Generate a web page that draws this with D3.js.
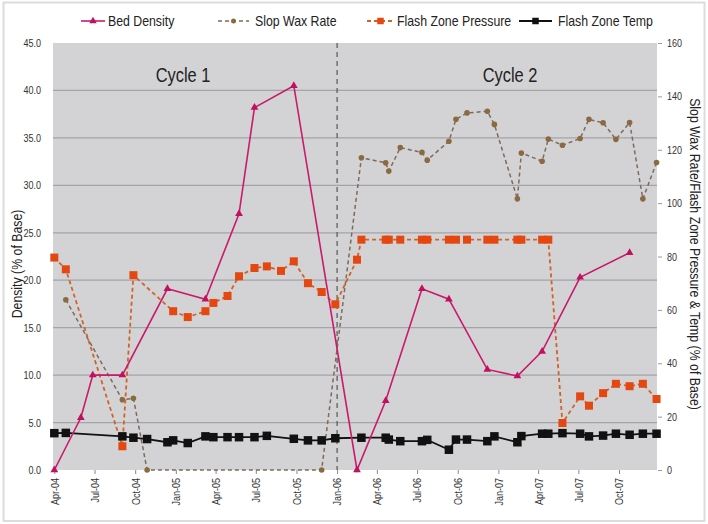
<!DOCTYPE html>
<html>
<head>
<meta charset="utf-8">
<script src="https://cdn.jsdelivr.net/npm/d3@7"></script>
<style>
  body { margin: 0; background: #fff; }
  svg text { font-family: 'Liberation Sans', Arial, sans-serif; }
</style>
</head>
<body>
<div class="chart"></div>
<script>
var w = 708,
  h = 524,
  margin = { top: 43, right: 51, bottom: 54, left: 53 },
  width = w - margin.left - margin.right,
  height = h - margin.top - margin.bottom;

// sample dates (shared by all series, null = no reading)
var dates = [
  '2004-04-01', '2004-04-27', '2004-05-31', '2004-06-27', '2004-09-02', '2004-09-27', '2004-10-28', '2004-12-13', '2004-12-26', '2005-01-28',
  '2005-03-09', '2005-03-27', '2005-04-28', '2005-05-24', '2005-06-28', '2005-07-26', '2005-08-27', '2005-09-25', '2005-10-27', '2005-11-27',
  '2005-12-28', '2006-02-15', '2006-02-25', '2006-04-21', '2006-04-28', '2006-05-24', '2006-07-12', '2006-07-24', '2006-09-11', '2006-09-27',
  '2006-10-22', '2006-12-07', '2006-12-23', '2007-02-13', '2007-02-22', '2007-04-10', '2007-04-24', '2007-05-26', '2007-07-05', '2007-07-25',
  '2007-08-26', '2007-09-24', '2007-10-25', '2007-11-24', '2007-12-25'
];

// left axis
var bedDensity = [
  0.0, null, 5.5, 10.0, 10.0, null, null, 19.1, null, null,
  18.0, null, null, 27.0, 38.2, null, null, 40.5, null, null,
  null, 0.0, null, 7.3, null, null, 19.1, null, 18.0, null,
  null, 10.6, null, 9.9, null, 12.5, null, null, 20.3, null,
  null, null, 22.9, null, null
];

// right axis
var slopWax = [
  null, 63.8, null, null, 26.3, 26.9, 0, null, null, null,
  null, null, null, null, null, null, null, null, null, 0,
  null, null, 117, 115.1, 112, 120.8, 119, 116.1, 123.2, 131.4,
  133.8, 134.4, 129.5, 101.6, 118.8, 115.7, 124, 121.7, 124.2, 131.4,
  130.1, 123.9, 130.2, 101.6, 115.2
];

var flashPressure = [
  79.6, 75.2, null, null, 8.9, 73.0, null, null, 59.5, 57.3,
  59.5, 62.6, 65.2, 72.6, 75.7, 76.3, 74.6, 78.2, 70.0, 66.7,
  62.1, 78.8, 86.3, 86.3, 86.3, 86.3, 86.3, 86.3, 86.3, 86.3,
  86.3, 86.3, 86.3, 86.3, 86.3, 86.3, 86.3, 17.6, 27.6, 24.1,
  28.8, 32.3, 31.4, 32.3, 26.6
];

var flashTemp = [
  13.8, 13.9, null, null, 12.6, 12.1, 11.6, 10.4, 11.1, 10.1,
  12.6, 12.3, 12.3, 12.3, 12.3, 12.8, null, 11.7, 11.1, 11.1,
  11.9, null, 12.1, 12.1, 11.4, 10.8, 10.8, 11.3, 7.6, 11.4,
  11.4, 10.8, 12.6, 10.4, 12.7, 13.6, 13.6, 13.8, 13.6, 12.6,
  12.9, 13.6, 13.2, 13.6, 13.6
];

var leftTicks = [0, 5, 10, 15, 20, 25, 30, 35, 40, 45],
  rightTicks = [0, 20, 40, 60, 80, 100, 120, 140, 160],
  cycleSplit = '2006-01-01',
  cycles = [{ label: 'Cycle 1', x: 130 }, { label: 'Cycle 2', x: 457 }];

var parseDate = d3.timeParse('%Y-%m-%d');

// helper to pair a value list with the dates, dropping gaps
var toPoints = function (values) {
  return values.map(function (v, i) {
    return { date: parseDate(dates[i]), value: v };
  }).filter(function (d) {
    return d.value !== null;
  });
}

var x = d3.scaleTime()
  .domain([parseDate('2004-03-29'), parseDate('2007-12-26')])
  .range([0, width]);

var yLeft = d3.scaleLinear().domain([0, 45]).range([height, 0]);
var yRight = d3.scaleLinear().domain([0, 160]).range([height, 0]);

var svg = d3.select('.chart')
  .append('svg')
  .attr('width', w)
  .attr('height', h);

// light frame round the whole picture
svg.append('rect')
  .attr('x', 3.5).attr('y', 2.5)
  .attr('width', 701).attr('height', 518.5)
  .attr('fill', 'none')
  .attr('stroke', '#dcdcdc')
  .attr('stroke-width', 2);

var g = svg.append('g')
  .attr('transform', 'translate(' + margin.left + ',' + margin.top + ')');

// plot background + grid
g.append('rect')
  .attr('width', width)
  .attr('height', height)
  .attr('fill', '#d3d3d6');

g.selectAll('.grid')
  .data(leftTicks.filter(function (t) { return t > 0 && t < 45; }))
  .enter()
  .append('line')
  .attr('class', 'grid')
  .attr('x1', 0).attr('x2', width)
  .attr('y1', function (d) { return yLeft(d); })
  .attr('y2', function (d) { return yLeft(d); })
  .attr('stroke', '#a4a4a8')
  .attr('stroke-width', 1.2);

// axes
var leftAxis = g.append('g')
  .call(d3.axisLeft(yLeft).tickValues(leftTicks).tickFormat(d3.format('.1f')).tickSize(0).tickPadding(12));
leftAxis.select('.domain').remove();
leftAxis.selectAll('text').attr('font-size', 11).attr('fill', '#333');

var rightAxis = g.append('g')
  .attr('transform', 'translate(' + (width + 1) + ',0)')
  .call(d3.axisRight(yRight).tickValues(rightTicks).tickSize(4).tickPadding(5));
rightAxis.select('.domain').remove();
rightAxis.selectAll('line').attr('stroke', '#999');
rightAxis.selectAll('text').attr('font-size', 11).attr('fill', '#333');

var xAxis = g.append('g')
  .attr('transform', 'translate(0,' + height + ')')
  .call(d3.axisBottom(x).ticks(d3.timeMonth.every(3)).tickFormat(d3.timeFormat('%b-%y')).tickSize(4));
xAxis.select('.domain').remove();
xAxis.selectAll('line').attr('stroke', '#888');
xAxis.selectAll('text')
  .attr('transform', 'rotate(-90)')
  .attr('x', -8)
  .attr('y', 0)
  .attr('dy', '0.35em')
  .style('text-anchor', 'end')
  .attr('font-size', 11)
  .attr('fill', '#333');

// axis titles
g.append('text')
  .attr('transform', 'translate(' + (17 - margin.left) + ',' + (264 - margin.top) + ') rotate(-90)')
  .attr('text-anchor', 'middle')
  .attr('dy', '0.35em')
  .attr('font-size', 15)
  .attr('fill', '#222')
  .text('Density (% of Base)');

g.append('text')
  .attr('transform', 'translate(' + (695 - margin.left) + ',' + (254 - margin.top) + ') rotate(90)')
  .attr('text-anchor', 'middle')
  .attr('dy', '0.35em')
  .attr('font-size', 15)
  .attr('fill', '#222')
  .text('Slop Wax Rate/Flash Zone Pressure & Temp (% of Base)');

// cycle split + labels
g.append('line')
  .attr('x1', x(parseDate(cycleSplit))).attr('x2', x(parseDate(cycleSplit)))
  .attr('y1', 0).attr('y2', height)
  .attr('stroke', '#555')
  .attr('stroke-width', 1.2)
  .attr('stroke-dasharray', '5,4');

g.selectAll('.cycle')
  .data(cycles)
  .enter()
  .append('text')
  .attr('class', 'cycle')
  .attr('x', function (d) { return d.x; })
  .attr('y', 39)
  .attr('text-anchor', 'middle')
  .attr('font-size', 20)
  .attr('fill', '#222')
  .text(function (d) { return d.label; });

// series
var series = [
  { name: 'Slop Wax Rate', values: slopWax, y: yRight, line: '#7b6b5a', dash: '4,3', width: 1.5, marker: 'circle', fill: '#8a6a3e' },
  { name: 'Flash Zone Pressure', values: flashPressure, y: yRight, line: '#cf6428', dash: '4,3', width: 1.8, marker: 'square', fill: '#e4470f', size: 8 },
  { name: 'Flash Zone Temp', values: flashTemp, y: yRight, line: '#111', dash: null, width: 1.8, marker: 'square', fill: '#111', size: 8.5 },
  { name: 'Bed Density', values: bedDensity, y: yLeft, line: '#c81b6c', dash: null, width: 1.6, marker: 'triangle', fill: '#c0105f' }
];

var drawMarker = function (sel, s, size) {
  if (s.marker === 'square') {
    sel.append('rect')
      .attr('x', -size / 2).attr('y', -size / 2)
      .attr('width', size).attr('height', size)
      .attr('fill', s.fill);
  } else if (s.marker === 'circle') {
    sel.append('circle').attr('r', size).attr('fill', s.fill);
  } else {
    sel.append('path')
      .attr('d', d3.symbol().type(d3.symbolTriangle).size(size)())
      .attr('fill', s.fill);
  }
}

series.forEach(function (s) {
  var pts = toPoints(s.values);
  var line = d3.line()
    .x(function (d) { return x(d.date); })
    .y(function (d) { return s.y(d.value); });

  g.append('path')
    .datum(pts)
    .attr('d', line)
    .attr('fill', 'none')
    .attr('stroke', s.line)
    .attr('stroke-width', s.width)
    .attr('stroke-dasharray', s.dash);

  g.selectAll('.m-' + s.marker + s.fill.replace('#', ''))
    .data(pts)
    .enter()
    .append('g')
    .attr('transform', function (d) { return 'translate(' + x(d.date) + ',' + s.y(d.value) + ')'; })
    .each(function () {
      drawMarker(d3.select(this), s, s.marker === 'square' ? s.size : s.marker === 'circle' ? 2.8 : 26);
    });
});

// legend
var legendItems = [
  { s: series[3], x1: 81, x2: 105, tx: 108 },
  { s: series[0], x1: 218, x2: 249, tx: 255 },
  { s: series[1], x1: 367, x2: 394, tx: 397 },
  { s: series[2], x1: 519, x2: 552, tx: 558 }
];

var legend = svg.append('g').attr('class', 'legend');
legendItems.forEach(function (it) {
  var s = it.s;
  legend.append('line')
    .attr('x1', it.x1).attr('x2', it.x2)
    .attr('y1', 21).attr('y2', 21)
    .attr('stroke', s.line)
    .attr('stroke-width', s.width)
    .attr('stroke-dasharray', s.dash);
  var m = legend.append('g').attr('transform', 'translate(' + ((it.x1 + it.x2) / 2) + ',21)');
  drawMarker(m, s, s.marker === 'square' ? 6.5 : s.marker === 'circle' ? 2.5 : 24);
  legend.append('text')
    .attr('x', it.tx)
    .attr('y', 21)
    .attr('dy', '0.35em')
    .attr('font-size', 15)
    .attr('fill', '#222')
    .text(s.name);
});

// the original uses a narrow face; squeeze every label to ~82% width
svg.selectAll('text').each(function () {
  var len = this.getComputedTextLength();
  d3.select(this)
    .attr('textLength', len * 0.82)
    .attr('lengthAdjust', 'spacingAndGlyphs');
});
</script>
</body>
</html>
